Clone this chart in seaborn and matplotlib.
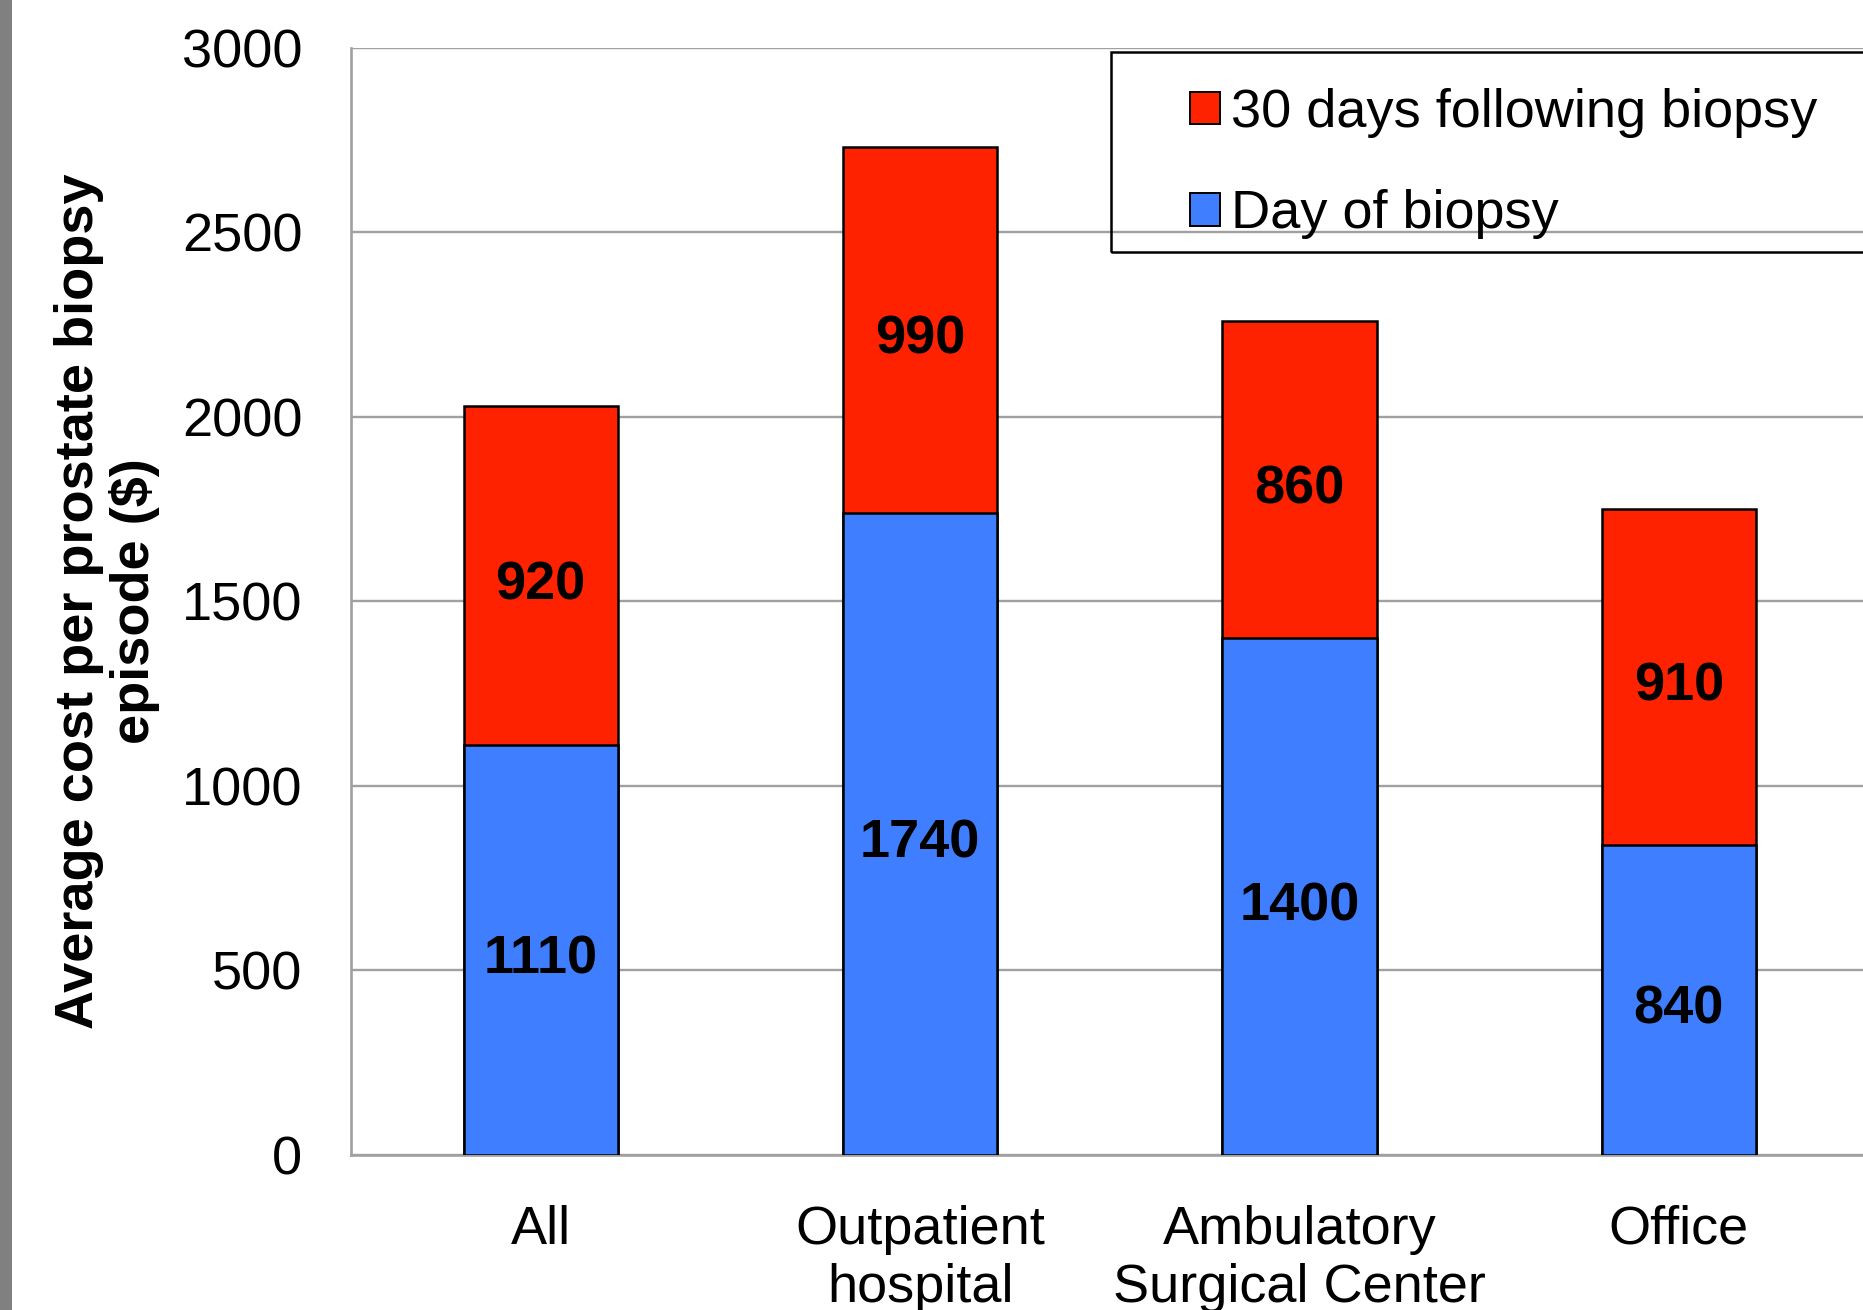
import matplotlib
matplotlib.use("Agg")
import matplotlib.pyplot as plt
from matplotlib.patches import Patch, Rectangle
import seaborn as sns

categories = ["All", "Outpatient\nhospital", "Ambulatory\nSurgical Center", "Office"]
day_of_biopsy = [1110, 1740, 1400, 840]
days_30_after = [920, 990, 860, 910]
y_ticks = [0, 500, 1000, 1500, 2000, 2500, 3000]

RED = "#FF2200"
BLUE = "#3F7FFF"
GRID = "#A0A0A0"

sns.set_style("white")
plt.rcParams["font.family"] = ["Liberation Sans", "DejaVu Sans"]
plt.rcParams["text.color"] = "black"
plt.rcParams["axes.labelcolor"] = "black"
plt.rcParams["xtick.color"] = "black"
plt.rcParams["ytick.color"] = "black"

totals = [d + a for d, a in zip(day_of_biopsy, days_30_after)]

fig = plt.figure(figsize=(18.63, 13.10), dpi=100)
ax = fig.add_axes([351 / 1863, 1 - 1155 / 1310, 1517.6 / 1863, (1155 - 47.7) / 1310])

sns.barplot(x=categories, y=totals, color=RED, width=0.406, edgecolor="black",
            linewidth=1.8, saturation=1, ax=ax, zorder=3)
sns.barplot(x=categories, y=day_of_biopsy, color=BLUE, width=0.406, edgecolor="black",
            linewidth=1.8, saturation=1, ax=ax, zorder=3)

# segment labels, centred in each segment
for i, (d, a) in enumerate(zip(day_of_biopsy, days_30_after)):
    for y, v in [(d / 2, d), (d + a / 2, a)]:
        ax.annotate(str(v), (i, y), xytext=(0, -3), textcoords="offset points",
                    ha="center", va="center_baseline", fontsize=39,
                    fontweight="bold", zorder=4)

ax.set_xlim(-0.5, 3.5)
ax.set_ylim(0, 3000)
ax.set_yticks(y_ticks)
ax.yaxis.grid(True, color=GRID, linewidth=1.7, zorder=0)
ax.set_axisbelow(True)
for side in ["top", "right"]:
    ax.spines[side].set_visible(False)
for side in ["left", "bottom"]:
    ax.spines[side].set_color(GRID)
    ax.spines[side].set_linewidth(1.9)
ax.tick_params(axis="y", length=0, labelsize=39, pad=35)
ax.tick_params(axis="x", length=0, labelsize=39, pad=36)
for lbl in ax.get_xticklabels():
    lbl.set_linespacing(1.2)
for lbl in ax.get_yticklabels():
    lbl.set_va("center_baseline")

ax.set_ylabel("Average cost per prostate biopsy\nepisode ($)", fontsize=39,
              fontweight="bold", linespacing=1.12)
ax.yaxis.set_label_coords(-0.126, 0.5)

# legend
handles = [Patch(facecolor=RED, edgecolor="black", linewidth=1.4, label="30 days following biopsy"),
           Patch(facecolor=BLUE, edgecolor="black", linewidth=1.4, label="Day of biopsy")]
fig.legend(handles=handles, loc="upper left", bbox_to_anchor=(1190 / 1863, 1 - 88 / 1310),
           frameon=False, fontsize=39, borderpad=0, borderaxespad=0,
           handlelength=0.55, handleheight=0.55, handletextpad=0.2, labelspacing=0.95)
fig.patches.append(Rectangle((1111 / 1863, 1 - 252 / 1310), 0.5, 200 / 1310,
                             transform=fig.transFigure, facecolor="none",
                             edgecolor="black", linewidth=1.8, zorder=5))

# grey strip at the left edge
fig.patches.append(Rectangle((0, 0), 12 / 1863, 1, transform=fig.transFigure,
                             facecolor="#808080", edgecolor="none"))

fig.savefig("out.png", dpi=100)
